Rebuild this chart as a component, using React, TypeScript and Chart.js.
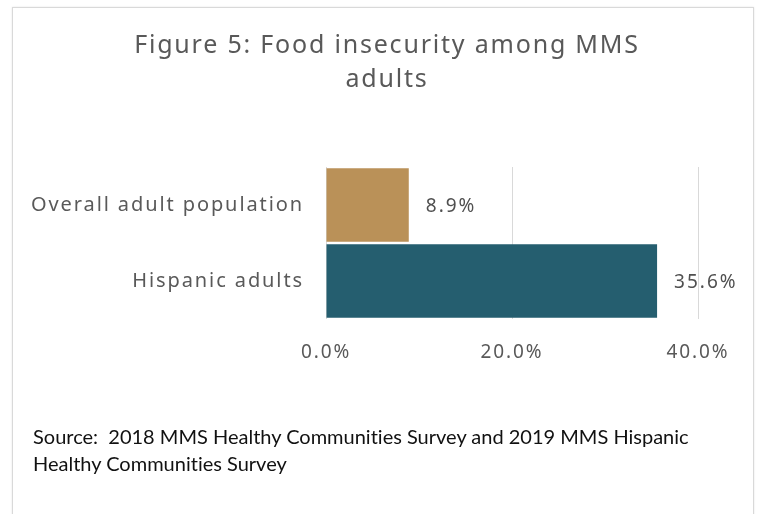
import React, { useEffect, useRef } from "react";
import { Chart, registerables } from "chart.js";

Chart.register(...registerables);

const categories = ["Overall adult population", "Hispanic adults"];
const values = [8.9, 35.6];
const barColors = ["#BA9158", "#255E6F"];
const xTicks = [0, 20, 40];
const titleLines = ["Figure 5: Food insecurity among MMS", "adults"];
const sourceLines = [
  "Source:  2018 MMS Healthy Communities Survey and 2019 MMS Hispanic",
  "Healthy Communities Survey",
];

const labelFont = "'Noto Sans', sans-serif";

const spacing = {
  id: "spacing",
  beforeDraw(chart: any) {
    (chart.ctx as any).letterSpacing = "1.9px";
  },
};

const valueLabels = {
  id: "valueLabels",
  afterDatasetsDraw(chart: any) {
    const ctx = chart.ctx;
    const meta = chart.getDatasetMeta(0);
    ctx.save();
    ctx.letterSpacing = "2px";
    ctx.font = `19px ${labelFont}`;
    ctx.fillStyle = "#505050";
    ctx.textAlign = "left";
    ctx.textBaseline = "middle";
    meta.data.forEach((bar: any, i: number) => {
      ctx.fillText(values[i].toFixed(1) + "%", bar.x + 17, bar.y + 2);
    });
    ctx.restore();
  },
};

export default function App() {
  const canvasRef = useRef<HTMLCanvasElement>(null);

  useEffect(() => {
    document.body.style.margin = "0";
    const chart = new Chart(canvasRef.current!, {
      type: "bar",
      data: {
        labels: categories,
        datasets: [
          {
            data: values,
            backgroundColor: barColors,
            barPercentage: 0.97,
            categoryPercentage: 1,
          },
        ],
      },
      options: {
        indexAxis: "y",
        animation: false,
        responsive: false,
        layout: { padding: { left: 0, right: 59, top: 167, bottom: 145 } },
        plugins: { legend: { display: false }, tooltip: { enabled: false }, title: { display: false } },
        scales: {
          x: {
            min: 0,
            max: 40,
            afterBuildTicks: (scale: any) => {
              scale.ticks = xTicks.map((v) => ({ value: v }));
            },
            afterFit: (scale: any) => {
              scale.height = 50;
            },
            grid: { color: "#d9d9d9", drawTicks: false, lineWidth: 1 },
            border: { display: false },
            ticks: {
              padding: 22,
              color: "#595959",
              font: { size: 19, family: labelFont },
              callback: (v: any) => Number(v).toFixed(1) + "%",
            },
          },
          y: {
            afterFit: (scale: any) => {
              scale.width = 326;
            },
            grid: { display: false, drawTicks: false },
            border: { display: false },
            ticks: {
              padding: 22,
              color: "#595959",
              font: { size: 20, family: labelFont },
            },
          },
        },
      },
      plugins: [spacing, valueLabels],
    });
    return () => chart.destroy();
  }, []);

  return (
    <div style={{ position: "relative", width: 757, height: 514, overflow: "hidden", background: "#fff" }}>
      <div
        style={{
          position: "absolute",
          left: 12,
          top: 7,
          width: 740,
          height: 540,
          border: "1px solid #d9d9d9",
          boxShadow: "0 0 2px #e6e6e6",
        }}
      />
      <canvas ref={canvasRef} width={757} height={514} style={{ position: "absolute", left: 0, top: 0 }} />
      <div
        style={{
          position: "absolute",
          left: 0,
          top: 26,
          width: 774,
          textAlign: "center",
          fontFamily: labelFont,
          fontSize: 25,
          letterSpacing: "1.8px",
          lineHeight: "34px",
          color: "#595959",
        }}
      >
        {titleLines.map((t) => (
          <div key={t}>{t}</div>
        ))}
      </div>
      <div
        style={{
          position: "absolute",
          left: 33,
          top: 423,
          fontFamily: "Lato, sans-serif",
          fontSize: 20,
          lineHeight: "27px",
          color: "#111",
          whiteSpace: "pre",
          fontVariantLigatures: "none",
        }}
      >
        {sourceLines.map((t) => (
          <div key={t}>{t}</div>
        ))}
      </div>
    </div>
  );
}
